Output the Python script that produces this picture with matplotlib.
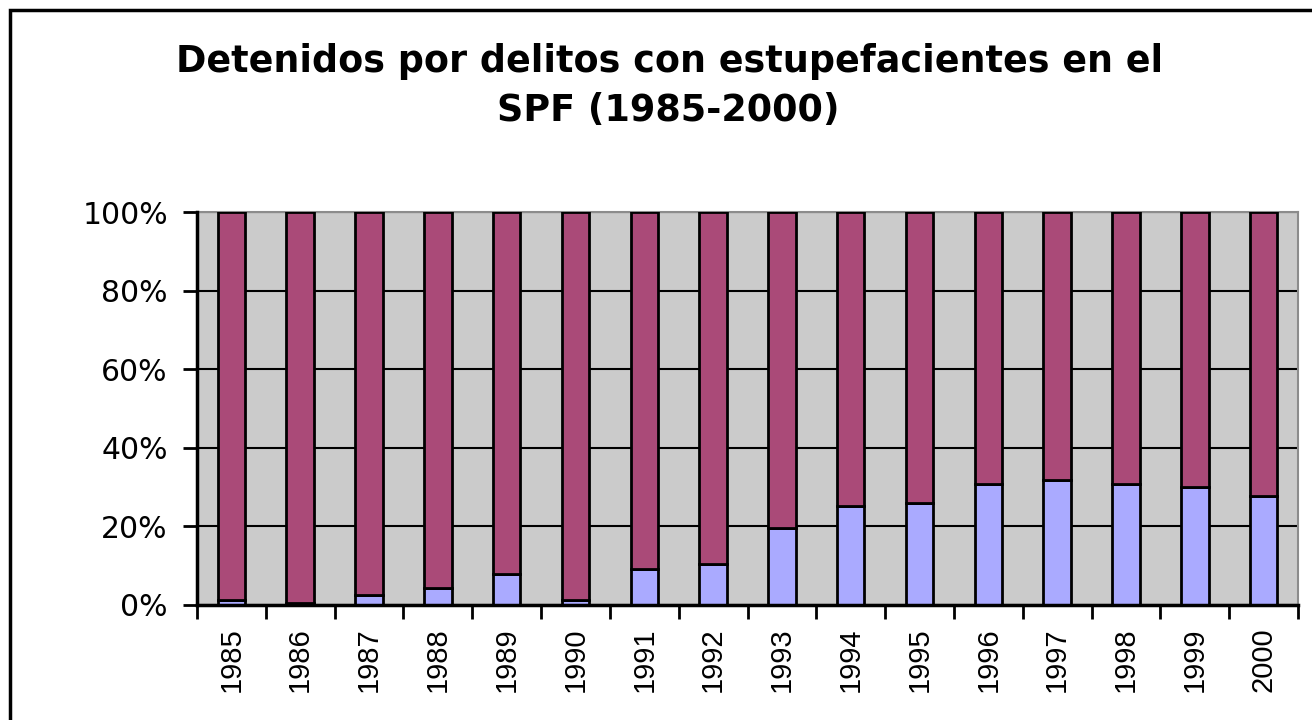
import matplotlib
matplotlib.use("Agg")
import matplotlib.pyplot as plt
from matplotlib.patches import Rectangle
from matplotlib.ticker import PercentFormatter, FixedLocator
import numpy as np

plt.rcParams['font.family'] = ['Liberation Sans', 'DejaVu Sans']

YEARS = ['1985', '1986', '1987', '1988', '1989', '1990', '1991', '1992',
         '1993', '1994', '1995', '1996', '1997', '1998', '1999', '2000']
# share of detainees for narcotics offences (%)
ESTUPEFACIENTES = [1.3, 0.5, 2.5, 4.3, 8.0, 1.2, 9.2, 10.4,
                   19.6, 25.2, 26.0, 30.8, 31.8, 30.8, 30.0, 27.7]
OTROS = [100 - v for v in ESTUPEFACIENTES]

TITLE_1 = "Detenidos por delitos con estupefacientes en el"
TITLE_2 = "SPF (1985-2000)"

fig = plt.figure(figsize=(13.12, 7.2), dpi=100)
ax = fig.add_axes([197 / 1312, 1 - 605 / 720, (1298 - 197) / 1312, (605 - 212) / 720])

x = np.arange(len(YEARS))
ax.bar(x, ESTUPEFACIENTES, width=0.4, color='#AAAAFF', edgecolor='black', linewidth=2, zorder=3)
ax.bar(x, OTROS, width=0.4, bottom=ESTUPEFACIENTES, color='#AA4A78', edgecolor='black',
       linewidth=2, zorder=3)

ax.set_facecolor('#CBCBCB')
ax.set_xlim(-0.5, len(YEARS) - 0.5)
ax.set_ylim(0, 100)

ax.yaxis.set_major_locator(FixedLocator([0, 20, 40, 60, 80, 100]))
ax.yaxis.set_major_formatter(PercentFormatter(decimals=0))
ax.grid(axis='y', color='black', linewidth=1.5, zorder=1)

ax.set_xticks(x)
ax.set_xticklabels(YEARS, rotation=90, fontsize=21)
ax.tick_params(axis='x', which='major', length=0, pad=16)
ax.xaxis.set_minor_locator(FixedLocator(np.arange(-0.5, len(YEARS), 1)))
ax.tick_params(axis='x', which='minor', length=10, width=2, direction='out')
ax.tick_params(axis='y', length=10, width=2, direction='out', pad=11)
for lab in ax.get_yticklabels():
    lab.set_family('DejaVu Sans')
    lab.set_fontsize(21.5)

for side in ['top', 'right']:
    ax.spines[side].set_color('#8C8C8C')
    ax.spines[side].set_linewidth(1.5)
for side in ['left', 'bottom']:
    ax.spines[side].set_color('black')
    ax.spines[side].set_linewidth(2.5)
    ax.spines[side].set_zorder(4)

fig.text(670 / 1312, 1 - 72 / 720, TITLE_1, ha='center', va='baseline', fontsize=26.3,
         fontweight='bold', family='DejaVu Sans')
fig.text(668 / 1312, 1 - 121 / 720, TITLE_2, ha='center', va='baseline', fontsize=26.3,
         fontweight='bold', family='DejaVu Sans')

# chart area frame
fig.patches.append(Rectangle((10 / 1312, -0.1), 1.2, 1.1 - 10 / 720, transform=fig.transFigure,
                             fill=False, edgecolor='black', linewidth=2.5))

fig.savefig('out.png', dpi=100)
